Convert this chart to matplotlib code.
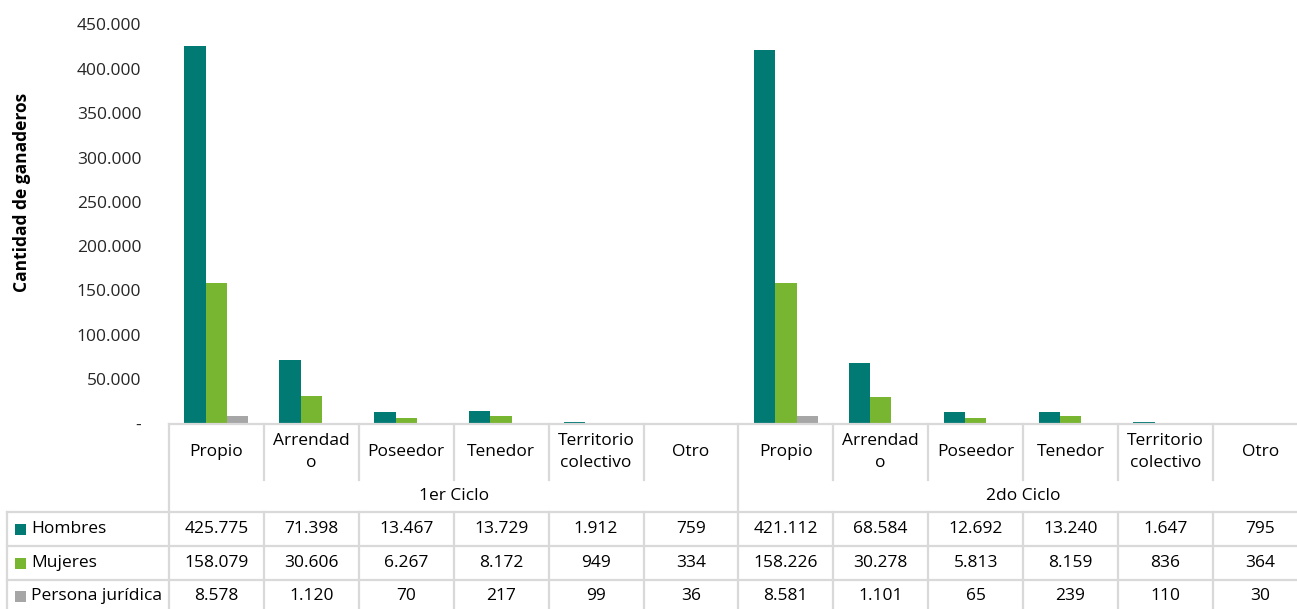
import matplotlib
matplotlib.use("Agg")
import matplotlib.pyplot as plt
from matplotlib.transforms import blended_transform_factory
from matplotlib.patches import Rectangle

# ---------------- data ----------------
categories = ["Propio", "Arrendad\no", "Poseedor", "Tenedor", "Territorio\ncolectivo", "Otro"]
cycles = ["1er Ciclo", "2do Ciclo"]
series_names = ["Hombres", "Mujeres", "Persona jurídica"]
hombres = [425775, 71398, 13467, 13729, 1912, 759,
           421112, 68584, 12692, 13240, 1647, 795]
mujeres = [158079, 30606, 6267, 8172, 949, 334,
           158226, 30278, 5813, 8159, 836, 364]
persona_juridica = [8578, 1120, 70, 217, 99, 36,
                    8581, 1101, 65, 239, 110, 30]
y_ticks = list(range(0, 450001, 50000))

colors = ["#007A72", "#78B530", "#A6A6A6"]
series = [hombres, mujeres, persona_juridica]

W, H = 1297, 609
plt.rcParams['font.family'] = ['Open Sans', 'DejaVu Sans']
fig = plt.figure(figsize=(W / 100, H / 100), dpi=100)

n = len(categories) * len(cycles)
cat_w = 94.9
left_px, top_px, bottom_px = 169, 24.5, 423.5
ax = fig.add_axes([left_px / W, 1 - bottom_px / H, n * cat_w / W, (bottom_px - top_px) / H])

bw = 0.225
xs = list(range(n))
for k, (vals, c) in enumerate(zip(series, colors)):
    ax.bar([x + (k - 1) * bw for x in xs], vals, width=bw, color=c, zorder=2)

ax.set_xlim(-0.5, n - 0.5)
ax.set_ylim(0, 450000)
ax.set_yticks(y_ticks)
def fmt(v):
    v = int(v)
    return "-" if v == 0 else f"{v:,}".replace(",", ".")
ax.set_yticklabels([fmt(v) for v in y_ticks], fontsize=12.5, color="#262626")
ax.tick_params(axis="y", length=0, pad=20)
ax.set_xticks([])
for s in ax.spines.values():
    s.set_visible(False)
ax.patch.set_alpha(0)

fig.text(22 / W, 1 - 192 / H, "Cantidad de ganaderos", rotation=90, ha="center", va="center",
         fontsize=12.5, fontweight="bold", color="#000000")

# ---------------- table ----------------
def fy(px):
    return 1 - px / H

tr = blended_transform_factory(ax.transData, fig.transFigure)
trf = fig.transFigure
lc = "#D9D9D9"
lw = 1.6
y_top, y_hdr, y_cyc, y_r1, y_r2, y_bot = 423.5, 480, 511.5, 546, 580, 612
xr = n - 0.5
# horizontal lines
fig.add_artist(plt.Line2D([-0.5, xr], [fy(y_top)] * 2, transform=tr, color=lc, lw=lw))
for yy in (y_cyc, y_r1, y_r2):
    fig.add_artist(plt.Line2D([7 / W, 1], [fy(yy)] * 2, transform=trf, color=lc, lw=lw))
# vertical lines
fig.add_artist(plt.Line2D([7 / W] * 2, [fy(y_cyc), fy(y_bot)], transform=trf, color=lc, lw=lw))
for b in range(n + 1):
    xb = b - 0.5
    if b % len(categories) == 0:
        fig.add_artist(plt.Line2D([xb, xb], [fy(y_top), fy(y_bot)], transform=tr, color=lc, lw=lw))
    else:
        fig.add_artist(plt.Line2D([xb, xb], [fy(y_top), fy(y_hdr)], transform=tr, color=lc, lw=lw))
        fig.add_artist(plt.Line2D([xb, xb], [fy(y_cyc), fy(y_bot)], transform=tr, color=lc, lw=lw))

tc = "#000000"
fs = 12.5
for i in range(n):
    fig.text(i, fy(452), categories[i % len(categories)], transform=tr, ha="center", va="center",
             fontsize=fs, color=tc, linespacing=1.5)
for j, cyc in enumerate(cycles):
    xc = j * len(categories) + (len(categories) - 1) / 2
    fig.text(xc, fy(496), cyc, transform=tr, ha="center", va="center", fontsize=fs, color=tc)

row_centers = [529, 563, 596]
for k, (name, vals, c) in enumerate(zip(series_names, series, colors)):
    yc = row_centers[k]
    fig.add_artist(Rectangle((15 / W, fy(yc + 6)), 11 / W, 11 / H, transform=trf, color=c, lw=0))
    fig.text(31 / W, fy(yc), name, transform=trf, ha="left", va="center", fontsize=fs, color=tc)
    for i, v in enumerate(vals):
        fig.text(i, fy(yc), fmt(v), transform=tr, ha="center", va="center", fontsize=fs, color=tc)

fig.savefig("out.png", dpi=100)
